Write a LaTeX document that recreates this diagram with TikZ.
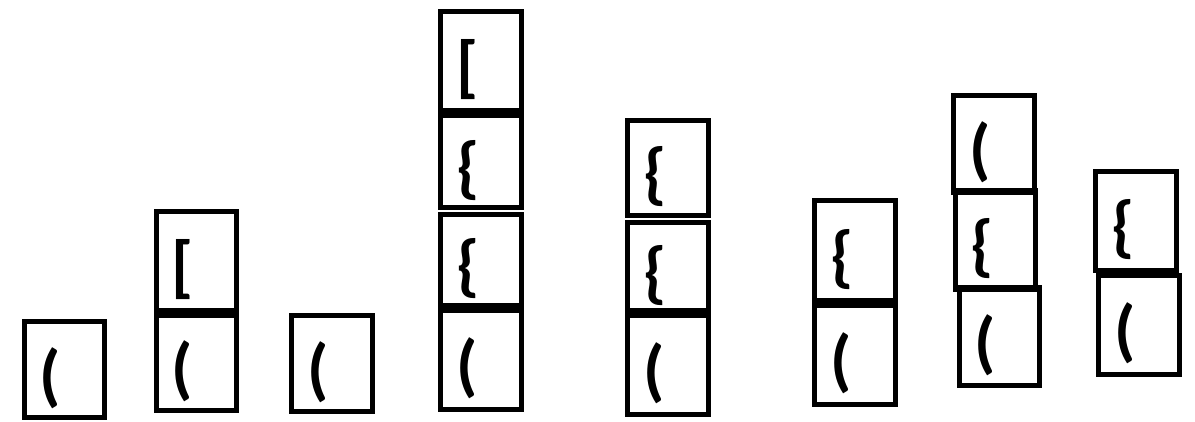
\documentclass[tikz,border=0pt]{standalone}
\usepackage{fontspec}
\setmainfont{Carlito}
\usepackage{tikz}
\usetikzlibrary{positioning}

\begin{document}
\begin{tikzpicture}[cell/.style={draw,line width=0.1cm,minimum width=1.62cm,inner sep=0pt,text width=1.0cm,align=left,text height=1.16cm,text depth=0.02cm,font=\fontsize{39}{39}\selectfont\bfseries}]
  \useasboundingbox (0,0) rectangle (23.9,8.42);
  % stack 1
  \node[cell,minimum width=1.60cm,minimum height=1.92cm] (a1) at (1.29,1.03) {(};
  % stack 2
  \node[cell,minimum width=1.60cm,minimum height=1.90cm] (b1) at (3.93,1.16) {(};
  \node[cell,minimum width=1.60cm,minimum height=1.98cm] (b2) at (3.93,3.20) {[};
  % stack 3
  \node[cell,minimum height=1.92cm] (c1) at (6.64,1.15) {(};
  % stack 4
  \node[cell,minimum height=1.98cm] (d1) at (9.62,1.22) {(};
  \node[cell,minimum height=1.82cm] (d2) at (9.62,3.22) {\{};
  \node[cell,minimum height=1.84cm] (d3) at (9.62,5.19) {\{};
  \node[cell,minimum height=1.98cm] (d4) at (9.62,7.20) {[};
  % stack 5
  \node[cell,minimum height=1.98cm] (e1) at (13.36,1.12) {(};
  \node[cell,minimum height=1.76cm] (e2) at (13.36,3.09) {\{};
  \node[cell,minimum height=1.90cm] (e3) at (13.36,5.06) {\{};
  % stack 6
  \node[cell,minimum height=1.98cm] (f1) at (17.10,1.32) {(};
  \node[cell,minimum height=2.00cm] (f2) at (17.10,3.41) {\{};
  % stack 7
  \node[cell,minimum height=1.94cm] (g3) at (19.88,5.54) {(};
  \node[cell,minimum width=1.60cm,minimum height=1.98cm] (g2) at (19.91,3.62) {\{};
  \node[cell,minimum width=1.60cm,minimum height=1.96cm] (g1) at (19.99,1.69) {(};
  % stack 8
  \node[cell,minimum height=1.98cm] (h2) at (22.72,4.00) {\{};
  \node[cell,minimum height=1.98cm] (h1) at (22.78,1.92) {(};
\end{tikzpicture}
\end{document}
